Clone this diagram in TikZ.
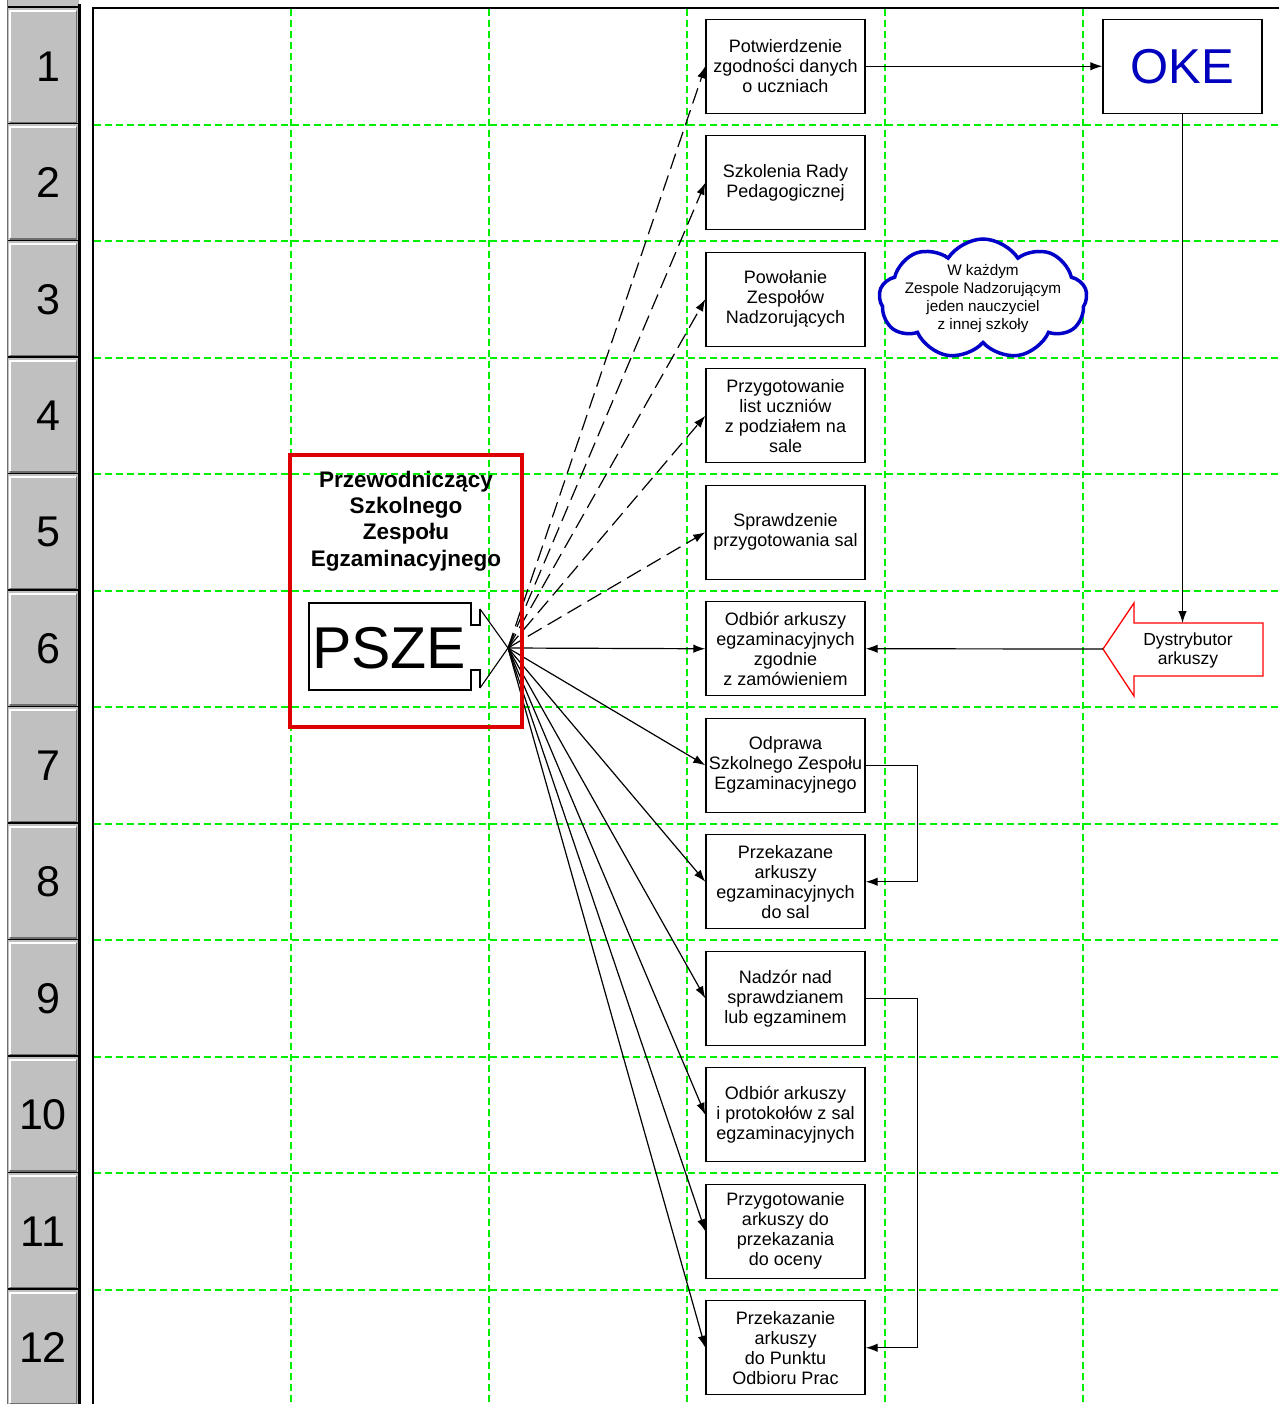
\documentclass[tikz,border=0pt]{standalone}
\usepackage{fontspec}
\setmainfont{Liberation Sans}
\usetikzlibrary{shapes.symbols,arrows.meta}
\definecolor{gridgreen}{RGB}{0,238,0}
\definecolor{pszered}{RGB}{222,0,0}
\definecolor{cloudblue}{RGB}{0,0,200}
\definecolor{okeblue}{RGB}{0,0,190}
\definecolor{btngray}{RGB}{192,192,192}
\definecolor{btndark}{RGB}{110,110,110}
\tikzset{
  gridline/.style={draw=gridgreen, line width=2pt, dash pattern=on 7pt off 4pt},
  task/.style={draw=black, line width=1.4pt, fill=white, minimum width=159pt, minimum height=94pt,
    inner sep=0pt, align=center, font=\fontsize{18}{20}\selectfont},
  conn/.style={line width=1.2pt, -{Latex[length=12pt,width=8.5pt]}},
  dconn/.style={conn, dash pattern=on 16pt off 7pt},
  num/.style={font=\fontsize{43}{43}\selectfont, inner sep=0pt},
  plain/.style={inner sep=0pt, align=center},
}
\begin{document}
\begin{tikzpicture}[x=1pt,y=-1pt]
\useasboundingbox (0,0) rectangle (1279,1404);
\fill[white] (0,0) rectangle (1279,1404);

% ---- button column ----
\fill[btngray] (8,0) rectangle (79,6);
\foreach \k [evaluate=\k as \t using 8+116.5*(\k-1), evaluate=\k as \b using 8+116.5*\k] in {1,...,12} {
  \fill[btngray] (8,\t) rectangle (79,\b);
  \draw[white, line width=2pt] (10,\b-3) -- (10,\t+3) -- (76,\t+3);
  \draw[btndark, line width=1.5pt] (76.5,\t+3) -- (76.5,\b-2) -- (10,\b-2);
  \draw[black, line width=2.5pt] (7,\b) -- (80,\b);
}
\draw[black, line width=2.5pt] (7,7) -- (80,7);
\draw[black, line width=2.5pt] (79.5,4) -- (79.5,1404);
\draw[btndark, line width=0.8pt] (7.5,0) -- (7.5,1404);
\foreach \k [evaluate=\k as \c using 66.25+116.5*(\k-1)] in {1,...,9} {
  \node[num] (n\k) at (48.5,\c) {\k};
}
\foreach \k [evaluate=\k as \c using 66.25+116.5*(\k-1)] in {10,11,12} {
  \node[num] (n\k) at (43,\c) {\k};
}

% ---- frame and grid ----
\foreach \x in {291,489,687,885,1083} \draw[gridline] (\x,9) -- (\x,1404);
\foreach \k in {1,...,11} \draw[gridline] (94,{round(8+116.5*\k)}) -- (1279,{round(8+116.5*\k)});
\draw[line width=1.8pt] (93,1404) -- (93,8) -- (1279,8);

% ---- task boxes ----
\node[task] (b1) at (785.5,66.25) {Potwierdzenie\\zgodności danych\\o uczniach};
\node[task] (b2) at (785.5,182.75) {Szkolenia Rady\\Pedagogicznej};
\node[task] (b3) at (785.5,299.25) {Powołanie\\Zespołów\\Nadzorujących};
\node[task] (b4) at (785.5,415.75) {Przygotowanie\\list uczniów\\z podziałem na\\sale};
\node[task] (b5) at (785.5,532.25) {Sprawdzenie\\przygotowania sal};
\node[task] (b6) at (785.5,648.75) {Odbiór arkuszy\\egzaminacyjnych\\zgodnie\\z zamówieniem};
\node[task] (b7) at (785.5,765.25) {Odprawa\\Szkolnego Zespołu\\Egzaminacyjnego};
\node[task] (b8) at (785.5,881.75) {Przekazane\\arkuszy\\egzaminacyjnych\\do sal};
\node[task] (b9) at (785.5,998.25) {Nadzór nad\\sprawdzianem\\lub egzaminem};
\node[task] (b10) at (785.5,1114.75) {Odbiór arkuszy\\i protokołów z sal\\egzaminacyjnych};
\node[task] (b11) at (785.5,1231.25) {Przygotowanie\\arkuszy do\\przekazania\\do oceny};
\node[task] (b12) at (785.5,1347.75) {Przekazanie\\arkuszy\\do Punktu\\Odbioru Prac};

% ---- OKE ----
\node[draw, line width=1.4pt, fill=white, minimum width=159pt, minimum height=94pt, inner sep=0pt,
  font=\fontsize{49}{49}\selectfont, text=okeblue] (oke) at (1182.5,66.25) {OKE};

% ---- cloud ----
\node[cloud, cloud puffs=9, cloud puff arc=115, aspect=1.8, draw=cloudblue, line width=3.5pt, fill=white,
  minimum width=208pt, minimum height=120pt] (cloud) at (983,299) {};
\node[plain, font=\fontsize{15.3}{18}\selectfont] (cloudtxt) at (983,299)
  {W każdym\\Zespole Nadzorującym\\jeden nauczyciel\\z innej szkoły};

% ---- Dystrybutor ----
\draw[draw=red, line width=1.3pt, fill=white] (1103,649) -- (1134,603) -- (1134,623) -- (1263,623)
  -- (1263,676) -- (1134,676) -- (1134,696) -- cycle;
\coordinate (dysttip) at (1103,649);
\coordinate (dysttop) at (1182.5,623);
\node[plain, font=\fontsize{17.5}{19}\selectfont] (dyst) at (1188,650) {Dystrybutor\\arkuszy};

% ---- right-side connectors ----
\draw[conn] (b1.east) -- (oke.west);
\draw[conn] (oke.south) -- (dysttop);
\draw[conn] (dysttip) -- (b6.east);
\draw[conn] (b7.east) -- ++(52,0) |- (b8.east);
\draw[conn] (b9.east) -- ++(52,0) |- (b12.east);

% ---- fan connectors ----
\coordinate (fan) at (508,648);
\foreach \k in {1,...,5} \draw[dconn] (fan) -- (b\k.west);
\foreach \k in {6,...,12} \draw[conn] (fan) -- (b\k.west);

% ---- PSZE ----
\draw[line width=1.3pt, fill=white] (480,609) -- (480,625) -- (471,625) -- (471,603) -- (309,603)
  -- (309,690) -- (471,690) -- (471,670) -- (480,670) -- (480,688);
\draw[line width=1.1pt] (480,609) -- (fan) -- (480,688);
\node[anchor=west, inner sep=0pt, font=\fontsize{59}{59}\selectfont] (psze) at (312,648) {PSZE};
\node[draw=pszered, line width=4pt, minimum width=232pt, minimum height=272pt, inner sep=0pt] (pszebox) at (406,591) {};
\node[plain, font=\bfseries\fontsize{22.5}{26.3}\selectfont] (title) at (406,521)
  {Przewodniczący\\Szkolnego\\Zespołu\\Egzaminacyjnego};
\end{tikzpicture}
\end{document}
